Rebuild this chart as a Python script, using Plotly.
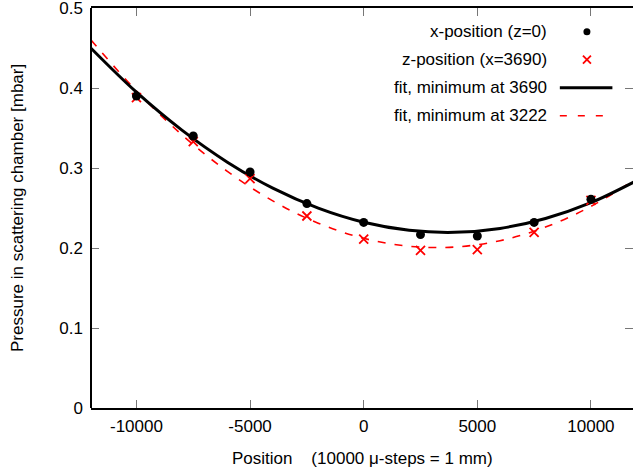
import plotly.graph_objects as go

positions = [-10000, -7500, -5000, -2500, 0, 2500, 5000, 7500, 10000]
x_scan_pressure = [0.390, 0.340, 0.295, 0.2555, 0.232, 0.2168, 0.2150, 0.232, 0.261]
z_scan_pressure = [0.388, 0.333, 0.2866, 0.240, 0.211, 0.197, 0.198, 0.2195, 0.2595]

# fit curves, points
fit_x = [-12000, -10000, -8000, -6000, -4000, -2000, 0, 2000, 4000, 6000, 8000, 10000, 12000]
fit_black = [0.4497, 0.3947, 0.3473, 0.3073, 0.2748, 0.2498, 0.2322, 0.2222, 0.2196,
             0.2245, 0.2369, 0.2567, 0.2841]
fit_red = [0.4600, 0.3963, 0.3415, 0.2958, 0.2589, 0.2310, 0.2121, 0.2022, 0.2012,
           0.2091, 0.2261, 0.2520, 0.2868]

legend_labels = ["x-position (z=0)", "z-position (x=3690)",
                 "fit, minimum at 3690", "fit, minimum at 3222"]

x_ticks = [-10000, -5000, 0, 5000, 10000]
y_ticks = [0, 0.1, 0.2, 0.3, 0.4, 0.5]
y_ticklabels = ["0", "0.1", "0.2", "0.3", "0.4", "0.5"]

FONT = "Liberation Sans, Arial, sans-serif"
FS = 17
RED = "#ff0000"
DASH = "8px,9px"

fig = go.Figure()
fig.add_trace(go.Scatter(x=fit_x, y=fit_red, mode="lines", line_shape="spline",
                         line=dict(color=RED, width=1.6, dash=DASH), showlegend=False))
fig.add_trace(go.Scatter(x=fit_x, y=fit_black, mode="lines", line_shape="spline",
                         line=dict(color="black", width=3), showlegend=False))
fig.add_trace(go.Scatter(x=positions, y=z_scan_pressure, mode="markers",
                         marker=dict(symbol="x-thin", size=9, line=dict(color=RED, width=1.8)),
                         showlegend=False))
fig.add_trace(go.Scatter(x=positions, y=x_scan_pressure, mode="markers",
                         marker=dict(symbol="circle", size=9, color="black"),
                         showlegend=False))

# manual legend (gnuplot style: text right-aligned, sample on the right)
ly = [0.9408, 0.8708, 0.8008, 0.7308]
tx = 0.843
for lab, yy in zip(legend_labels, ly):
    fig.add_annotation(x=tx, y=yy, xref="paper", yref="paper", text=lab, showarrow=False,
                       xanchor="right", yanchor="middle", borderpad=0,
                       font=dict(family=FONT, size=FS, color="black"))
sx0, sx1, sm = 0.865, 0.962, 0.915
fig.add_trace(go.Scatter(x=[sm], y=[ly[0]], xaxis="x2", yaxis="y2", mode="markers",
                         marker=dict(symbol="circle", size=7, color="black"), showlegend=False))
fig.add_trace(go.Scatter(x=[sm], y=[ly[1]], xaxis="x2", yaxis="y2", mode="markers",
                         marker=dict(symbol="x-thin", size=8, line=dict(color=RED, width=1.8)),
                         showlegend=False))
fig.add_trace(go.Scatter(x=[sx0, sx1], y=[ly[2], ly[2]], xaxis="x2", yaxis="y2", mode="lines",
                         line=dict(color="black", width=3), showlegend=False))
fig.add_trace(go.Scatter(x=[sx0, sx1], y=[ly[3], ly[3]], xaxis="x2", yaxis="y2", mode="lines",
                         line=dict(color=RED, width=1.6, dash="7px,11px"), showlegend=False))

# left border line
fig.add_shape(type="line", xref="paper", yref="paper", x0=0, x1=0, y0=0, y1=1,
              line=dict(color="black", width=2))

# axis titles
fig.add_annotation(x=0.5, y=0, xref="paper", yref="paper", yshift=-50,
                   text="Position \u00a0\u00a0\u00a0(10000 \u03bc-steps = 1 mm)", showarrow=False,
                   xanchor="center", yanchor="middle", font=dict(family=FONT, size=FS))
fig.add_annotation(x=0, y=0.5, xref="paper", yref="paper", xshift=-74, textangle=-90,
                   text="Pressure in scattering chamber [mbar]", showarrow=False,
                   xanchor="center", yanchor="middle", font=dict(family=FONT, size=FS))

fig.update_layout(
    width=633, height=472,
    margin=dict(l=91, r=0, t=8, b=64, autoexpand=False),
    paper_bgcolor="white", plot_bgcolor="white",
    font=dict(family=FONT, size=FS, color="black"),
    xaxis=dict(range=[-12000, 11851], tickvals=x_ticks, ticktext=[str(v) for v in x_ticks],
               ticks="inside", ticklen=8, tickwidth=1.2, tickcolor="#777777",
               showline=True, linecolor="black", linewidth=2, mirror="ticks",
               showgrid=False, zeroline=False, automargin=False, ticklabelstandoff=2,
               ticklabeloverflow="allow"),
    yaxis=dict(range=[0, 0.5], tickvals=y_ticks, ticktext=y_ticklabels,
               ticks="inside", ticklen=8, tickwidth=1.2, tickcolor="#777777",
               showline=False, mirror="ticks",
               showgrid=False, zeroline=False, automargin=False, ticklabelstandoff=7,
               ticklabeloverflow="allow"),
    xaxis2=dict(range=[0, 1], overlaying="x", visible=False),
    yaxis2=dict(range=[0, 1], overlaying="y", visible=False),
)

fig.write_html("out.html", config={"displayModeBar": False},
               post_script="document.body.style.margin='0';")
